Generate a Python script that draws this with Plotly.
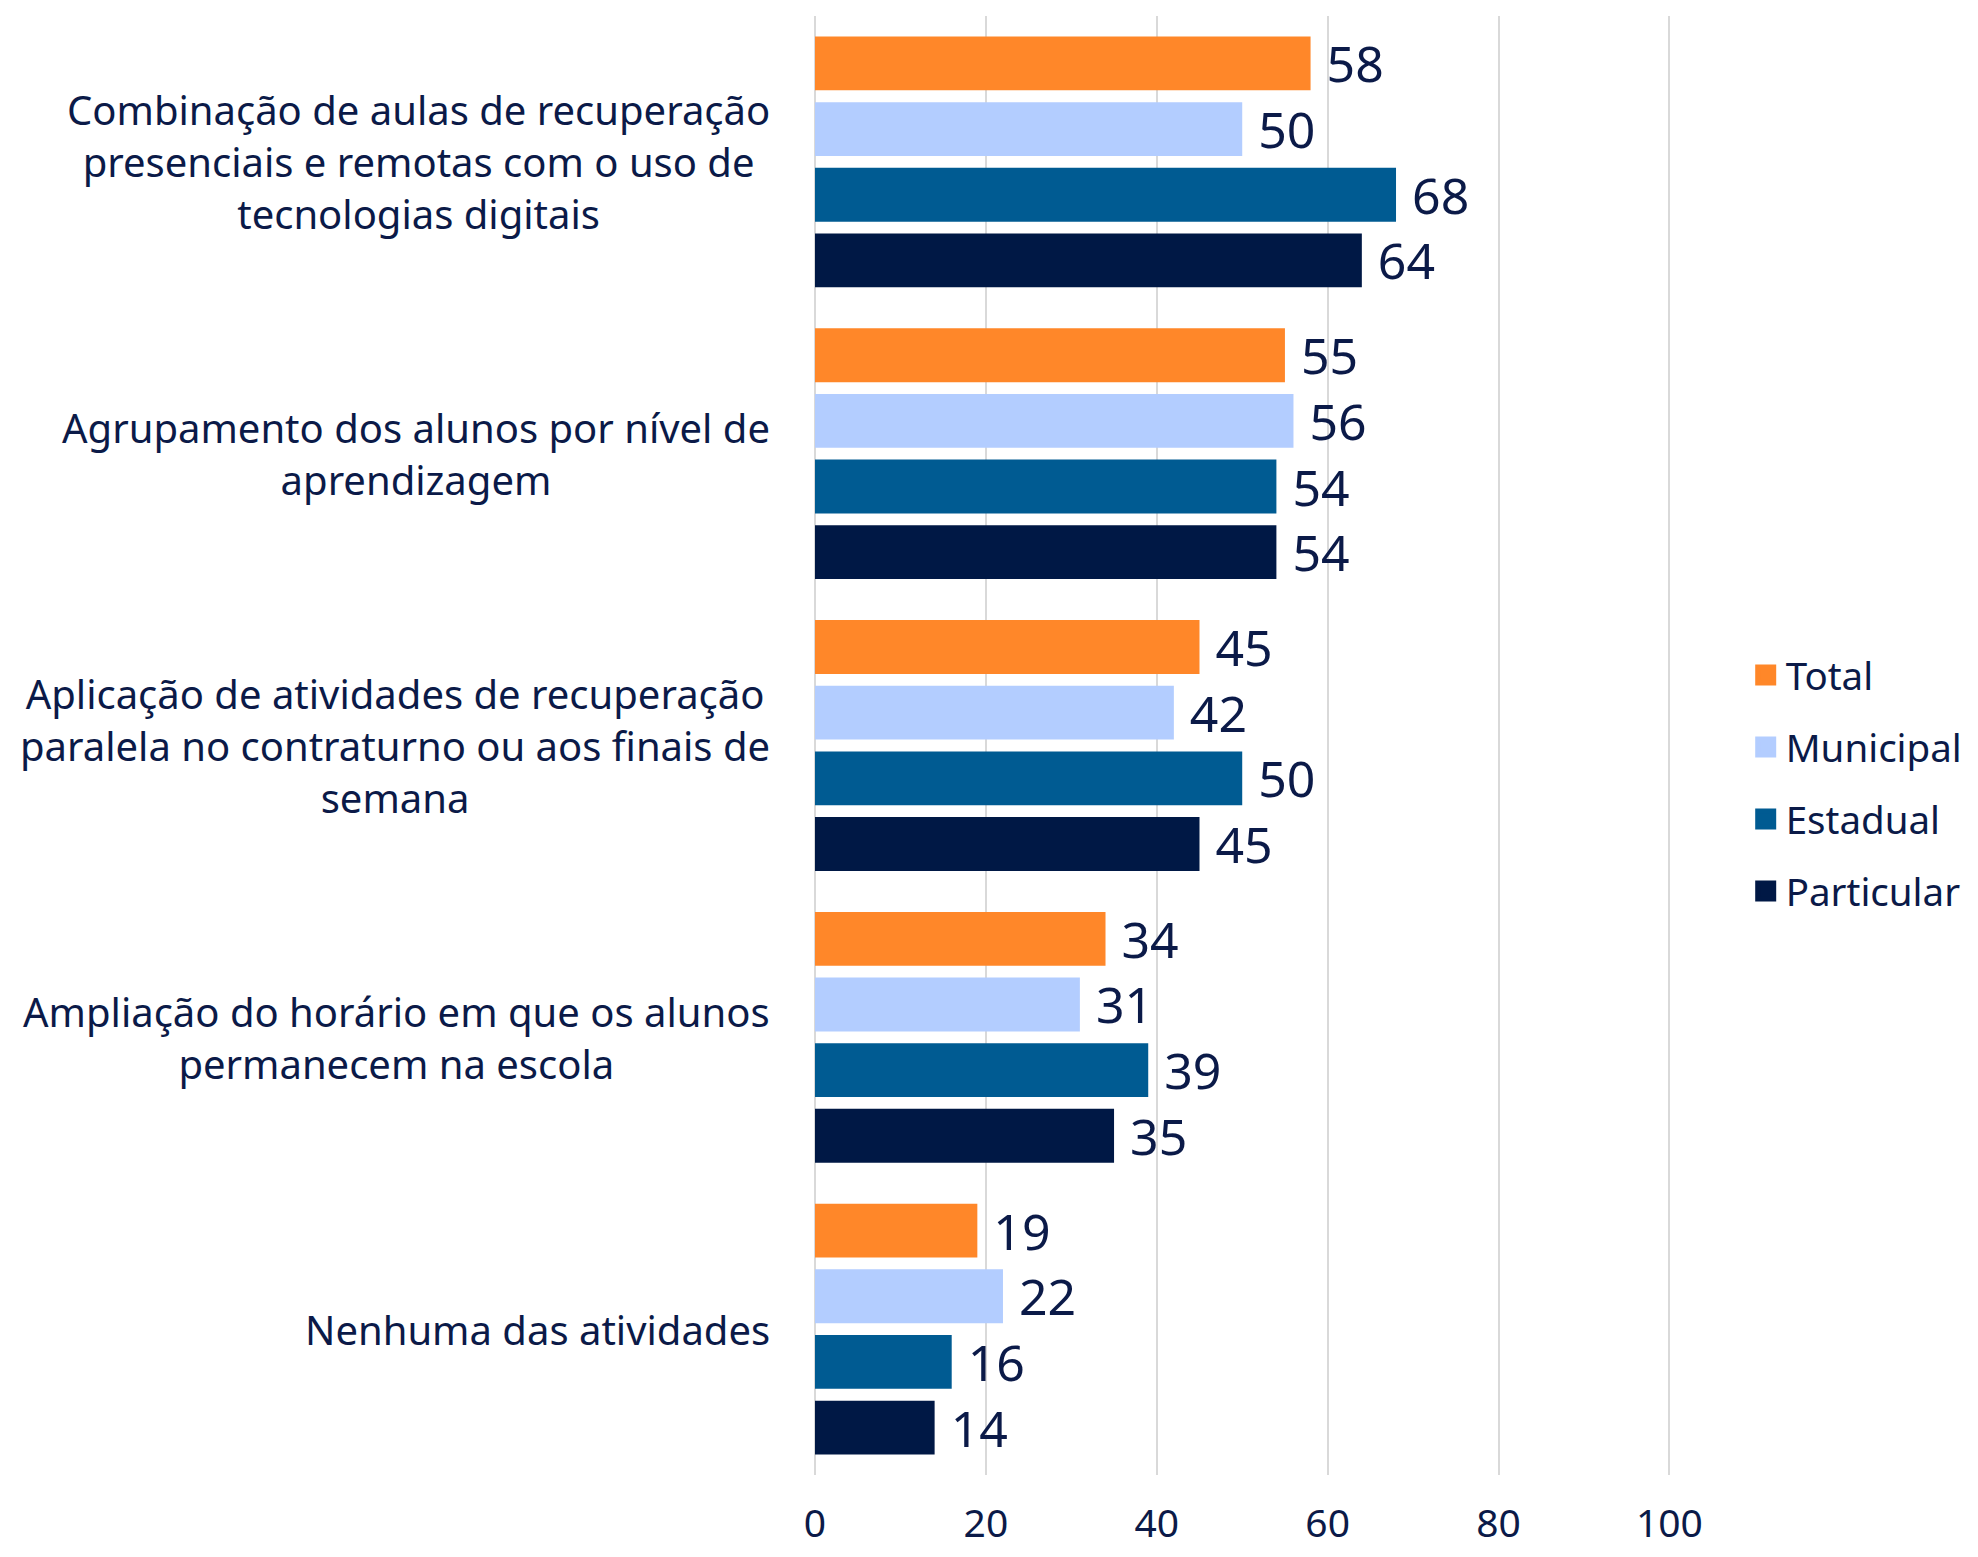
import plotly.graph_objects as go

categories = [
    "Combinação de aulas de recuperação<br>presenciais e remotas com o uso de<br>tecnologias digitais",
    "Agrupamento dos alunos por nível de<br>aprendizagem",
    "Aplicação de atividades de recuperação<br>paralela no contraturno ou aos finais de<br>semana",
    "Ampliação do horário em que os alunos<br>permanecem na escola",
    "Nenhuma das atividades",
]
series_names = ["Total", "Municipal", "Estadual", "Particular"]
total = [58, 55, 45, 34, 19]
municipal = [50, 56, 42, 31, 22]
estadual = [68, 54, 50, 39, 16]
particular = [64, 54, 45, 35, 14]
x_ticks = [0, 20, 40, 60, 80, 100]

colors = ["#FF8729", "#B3CDFF", "#005B92", "#001845"]
TEXT = "#0B1A48"
FONT = "Noto Sans"

fig = go.Figure()
for name, vals, col in zip(series_names, [total, municipal, estadual, particular], colors):
    fig.add_trace(go.Bar(
        name=name, y=categories, x=vals, orientation="h",
        marker=dict(color=col, line=dict(width=0)),
        text=vals, texttemplate=" %{x}", textposition="outside",
        constraintext="none", cliponaxis=False,
        textfont=dict(family=FONT, size=50, color=TEXT),
        showlegend=False,
    ))
    fig.add_trace(go.Scatter(
        name=name, x=[None], y=[None], mode="markers",
        marker=dict(symbol="square", size=25, color=col, line=dict(width=5, color=col)),
        showlegend=True, legendgroup=name,
    ))

for c in categories:
    fig.add_annotation(
        x=0, xref="paper", y=c, yref="y", text=c, showarrow=False,
        xanchor="right", yanchor="middle", align="center", xshift=-43,
        font=dict(family=FONT, size=40, color=TEXT),
    )

# page body has an 8px default margin; figure sized to fit the window
fig.update_layout(
    width=1962, height=1541,
    margin=dict(l=807, r=298, t=8, b=74, autoexpand=False),
    paper_bgcolor="white", plot_bgcolor="white",
    barmode="group", bargap=0.10, bargroupgap=0.18,
    font=dict(family=FONT, color=TEXT),
    legend=dict(
        x=1.086, xanchor="left", y=0.474, yanchor="middle",
        font=dict(family=FONT, size=38.5, color=TEXT),
        itemsizing="trace", tracegroupgap=19,
        bgcolor="rgba(0,0,0,0)",
    ),
    xaxis=dict(
        range=[0, 100.3], tickvals=x_ticks, showgrid=True,
        gridcolor="#D9D9D9", gridwidth=2, zeroline=True,
        zerolinecolor="#D9D9D9", zerolinewidth=2, showline=False,
        tickfont=dict(family=FONT, size=39, color=TEXT),
        ticklabelstandoff=22, fixedrange=True, automargin=False,
    ),
    yaxis=dict(
        autorange="reversed", showticklabels=False, showgrid=False,
        showline=False, zeroline=False, automargin=False,
    ),
)

fig.write_html("out.html")
